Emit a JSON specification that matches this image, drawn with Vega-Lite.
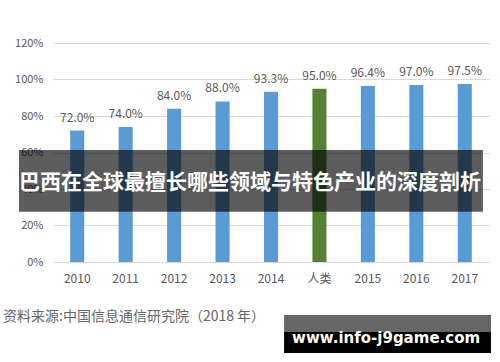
{
  "$schema": "https://vega.github.io/schema/vega-lite/v6.json",
  "width": 436,
  "height": 219,
  "autosize": {"type": "none"},
  "padding": {"left": 53, "top": 43, "right": 11, "bottom": 100},
  "background": "white",
  "config": {"view": {"stroke": null}, "font": "Noto Sans CJK SC"},
  "data": {
    "values": [
      {"category": "2010", "rate": 0.72, "group": "year"},
      {"category": "2011", "rate": 0.74, "group": "year"},
      {"category": "2012", "rate": 0.84, "group": "year"},
      {"category": "2013", "rate": 0.88, "group": "year"},
      {"category": "2014", "rate": 0.933, "group": "year"},
      {"category": "人类", "rate": 0.95, "group": "human"},
      {"category": "2015", "rate": 0.964, "group": "year"},
      {"category": "2016", "rate": 0.97, "group": "year"},
      {"category": "2017", "rate": 0.975, "group": "year"}
    ]
  },
  "layer": [
    {
      "encoding": {
        "x": {
          "field": "category",
          "type": "nominal",
          "sort": ["2010", "2011", "2012", "2013", "2014", "人类", "2015", "2016", "2017"],
          "scale": {"paddingInner": 0.71, "paddingOuter": 0.355},
          "axis": {"title": null, "labelAngle": 0, "labelFontSize": 12, "labelColor": "#595959", "labelPadding": 11, "ticks": false, "domain": false}
        },
        "y": {
          "field": "rate",
          "type": "quantitative",
          "scale": {"domain": [0, 1.2], "nice": false},
          "axis": {"title": null, "format": ".0%", "values": [0, 0.2, 0.4, 0.6, 0.8, 1.0, 1.2], "labelFontSize": 11, "labelColor": "#595959", "labelPadding": 10, "ticks": false, "domain": false, "grid": true, "gridColor": "#d9d9d9"}
        }
      },
      "layer": [
        {
          "mark": {"type": "bar"},
          "encoding": {
            "color": {"field": "group", "type": "nominal", "scale": {"domain": ["year", "human"], "range": ["#5b9bd5", "#548235"]}, "legend": null}
          }
        },
        {
          "mark": {"type": "text", "baseline": "middle", "dy": -13, "fontSize": 12, "fill": "#595959"},
          "encoding": {"text": {"field": "rate", "type": "quantitative", "format": ".1%"}}
        }
      ]
    },
    {
      "data": {"values": [{}]},
      "mark": {"type": "rect", "fill": "black", "opacity": 0.64},
      "encoding": {
        "x": {"datum": -0.078, "type": "quantitative", "scale": {"domain": [0, 1], "nice": false, "zero": false}, "axis": null},
        "x2": {"datum": 0.986},
        "y": {"datum": 0.614, "type": "quantitative", "axis": null},
        "y2": {"datum": 0.2756}
      }
    },
    {
      "data": {"values": [{}]},
      "mark": {"type": "text", "text": "巴西在全球最擅长哪些领域与特色产业的深度剖析", "fontSize": 21, "fontWeight": "bold", "fill": "white", "align": "center", "baseline": "middle"},
      "encoding": {
        "x": {"datum": 0.452, "type": "quantitative", "scale": {"domain": [0, 1], "nice": false, "zero": false}, "axis": null},
        "y": {"datum": 0.433, "type": "quantitative", "axis": null}
      }
    },
    {
      "data": {"values": [{}]},
      "mark": {"type": "text", "text": "资料来源:中国信息通信研究院（2018 年）", "fontSize": 14, "fill": "#666666", "align": "left", "baseline": "middle"},
      "encoding": {
        "x": {"datum": -0.1147, "type": "quantitative", "scale": {"domain": [0, 1], "nice": false, "zero": false}, "axis": null},
        "y": {"datum": -0.301, "type": "quantitative", "axis": null}
      }
    },
    {
      "data": {"values": [{}]},
      "mark": {"type": "rect", "fill": "#666666"},
      "encoding": {
        "x": {"datum": 0.530, "type": "quantitative", "scale": {"domain": [0, 1], "nice": false, "zero": false}, "axis": null},
        "x2": {"datum": 1.0046},
        "y": {"datum": -0.290, "type": "quantitative", "axis": null},
        "y2": {"datum": -0.384}
      }
    },
    {
      "data": {"values": [{}]},
      "mark": {"type": "rect", "fill": "black"},
      "encoding": {
        "x": {"datum": 0.530, "type": "quantitative", "scale": {"domain": [0, 1], "nice": false, "zero": false}, "axis": null},
        "x2": {"datum": 1.0046},
        "y": {"datum": -0.384, "type": "quantitative", "axis": null},
        "y2": {"datum": -0.499}
      }
    },
    {
      "data": {"values": [{}]},
      "mark": {"type": "text", "text": "www.info-j9game.com", "font": "DejaVu Sans", "fontSize": 15, "fontWeight": "bold", "fill": "white", "align": "center", "baseline": "middle"},
      "encoding": {
        "x": {"datum": 0.764, "type": "quantitative", "scale": {"domain": [0, 1], "nice": false, "zero": false}, "axis": null},
        "y": {"datum": -0.416, "type": "quantitative", "axis": null}
      }
    }
  ],
  "resolve": {"scale": {"x": "independent"}, "axis": {"x": "independent", "y": "independent"}}
}
